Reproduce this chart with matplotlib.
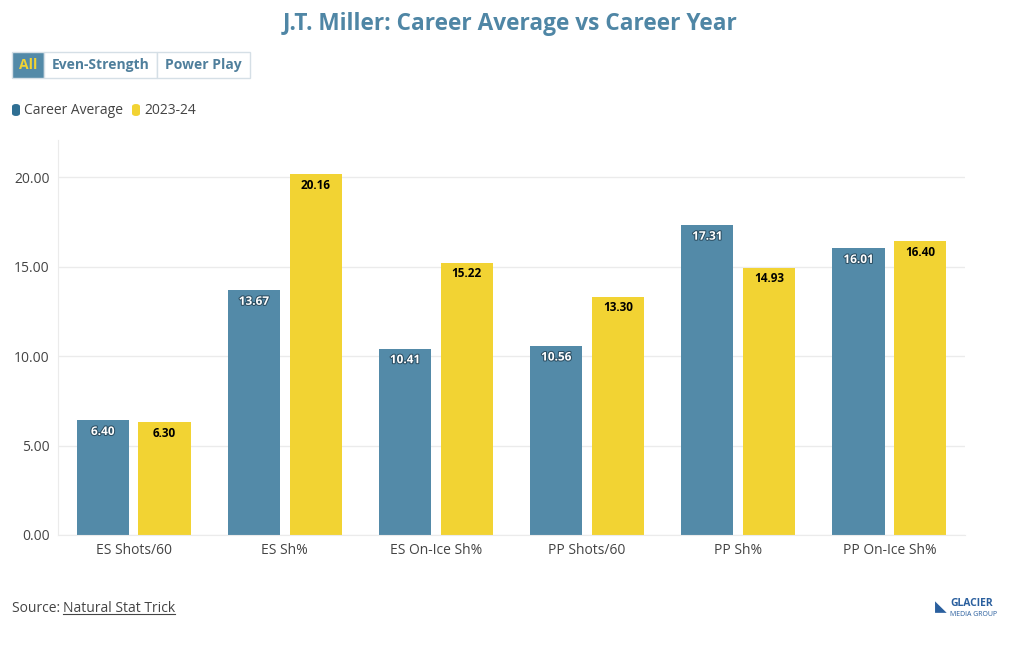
import matplotlib.pyplot as plt
import matplotlib.patheffects as pe
from matplotlib.patches import FancyBboxPatch, Rectangle
import numpy as np

categories = ["ES Shots/60", "ES Sh%", "ES On-Ice Sh%", "PP Shots/60", "PP Sh%", "PP On-Ice Sh%"]
career_avg = [6.40, 13.67, 10.41, 10.56, 17.31, 16.01]
season = [6.30, 20.16, 15.22, 13.30, 14.93, 16.40]
series_names = ["Career Average", "2023-24"]
yticks = [0, 5, 10, 15, 20]
buttons = ["All", "Even-Strength", "Power Play"]

BLUE = "#538aa8"
YELLOW = "#f2d333"
TITLE = "#4f86a5"
plt.rcParams["font.family"] = ["Open Sans", "DejaVu Sans"]


def main():
    W, H = 1020, 650
    fig = plt.figure(figsize=(W / 100, H / 100), dpi=100)
    ax = fig.add_axes([58 / W, 1 - 535 / H, (965 - 58) / W, (535 - 140) / H])

    x = np.arange(len(categories))
    w = 0.345
    off = 0.205
    b1 = ax.bar(x - off, career_avg, w, color=BLUE, zorder=2)
    b2 = ax.bar(x + off, season, w, color=YELLOW, zorder=2)

    for bars, col, stroke in ((b1, "white", True), (b2, "black", False)):
        for r in bars:
            t = ax.text(r.get_x() + r.get_width() / 2, r.get_height() - 0.25,
                        f"{r.get_height():.2f}", ha="center", va="top",
                        fontsize=8.5, fontweight="bold", color=col, zorder=3)
            if stroke:
                t.set_path_effects([pe.withStroke(linewidth=1.5, foreground="#2d4f63")])

    ax.set_xlim(-0.5, len(categories) - 0.5)
    ax.set_ylim(0, 22.07)
    ax.set_yticks(yticks)
    ax.set_yticklabels([f"{v:.2f}" for v in yticks])
    ax.set_xticks(x)
    ax.set_xticklabels(categories)
    ax.tick_params(axis="both", length=0, labelsize=10, colors="#444444", pad=6)
    ax.grid(axis="y", color="#ebebeb", lw=1, zorder=0)
    for s in ("top", "right"):
        ax.spines[s].set_visible(False)
    ax.spines["left"].set_color("#ebebeb")
    ax.spines["bottom"].set_color("#ebebeb")

    fig.text(510 / W, 1 - 24 / H, "J.T. Miller: Career Average vs Career Year",
             ha="center", va="center", fontsize=16.3, fontweight="bold", color=TITLE)

    # button group
    bx = [12, 44, 157, 250]
    for i, label in enumerate(buttons):
        x0, x1 = bx[i], bx[i + 1]
        fc = BLUE if i == 0 else "white"
        fig.patches.append(Rectangle((x0 / W, 1 - 78 / H), (x1 - x0) / W, 26 / H,
                                     transform=fig.transFigure, facecolor=fc,
                                     edgecolor="#d5dfe6", lw=1))
        fig.text((x0 + x1) / 2 / W, 1 - 65 / H, label, ha="center", va="center",
                 fontsize=10, fontweight="bold",
                 color="#f2d333" if i == 0 else "#4f7f9c")

    # legend
    lx = [12, 132]
    for i, name in enumerate(series_names):
        c = BLUE if i == 0 else YELLOW
        fig.patches.append(FancyBboxPatch((lx[i] / W, 1 - 116 / H), 8 / W, 12 / H,
                                          boxstyle="round,pad=0,rounding_size=0.004",
                                          transform=fig.transFigure, facecolor=c if i else "#2f6f93",
                                          edgecolor="none"))
        fig.text((lx[i] + 12) / W, 1 - 110 / H, name, ha="left", va="center",
                 fontsize=10, color="#444444")

    fig.text(12 / W, 1 - 609 / H, "Source: ", ha="left", va="center",
             fontsize=10, color="#444444")
    src = fig.text(63 / W, 1 - 609 / H, "Natural Stat Trick", ha="left", va="center",
                   fontsize=10, color="#444444")
    fig.canvas.draw()
    bb = src.get_window_extent()
    fig.add_artist(plt.Line2D([bb.x0 / W, bb.x1 / W], [(bb.y0 + 3) / H, (bb.y0 + 3) / H],
                              transform=fig.transFigure, color="#444444", lw=0.8))

    fig.text(950 / W, 1 - 604 / H, "GLACIER", ha="left", va="center",
             fontsize=7.5, fontweight="bold", color="#2a5f9e")
    fig.text(950 / W, 1 - 614 / H, "MEDIA GROUP", ha="left", va="center",
             fontsize=5, color="#2a5f9e")
    fig.text(935 / W, 1 - 608 / H, "\u25e3", ha="left", va="center",
             fontsize=11, color="#2a5f9e")

    fig.savefig("out.png", dpi=100)


main()
